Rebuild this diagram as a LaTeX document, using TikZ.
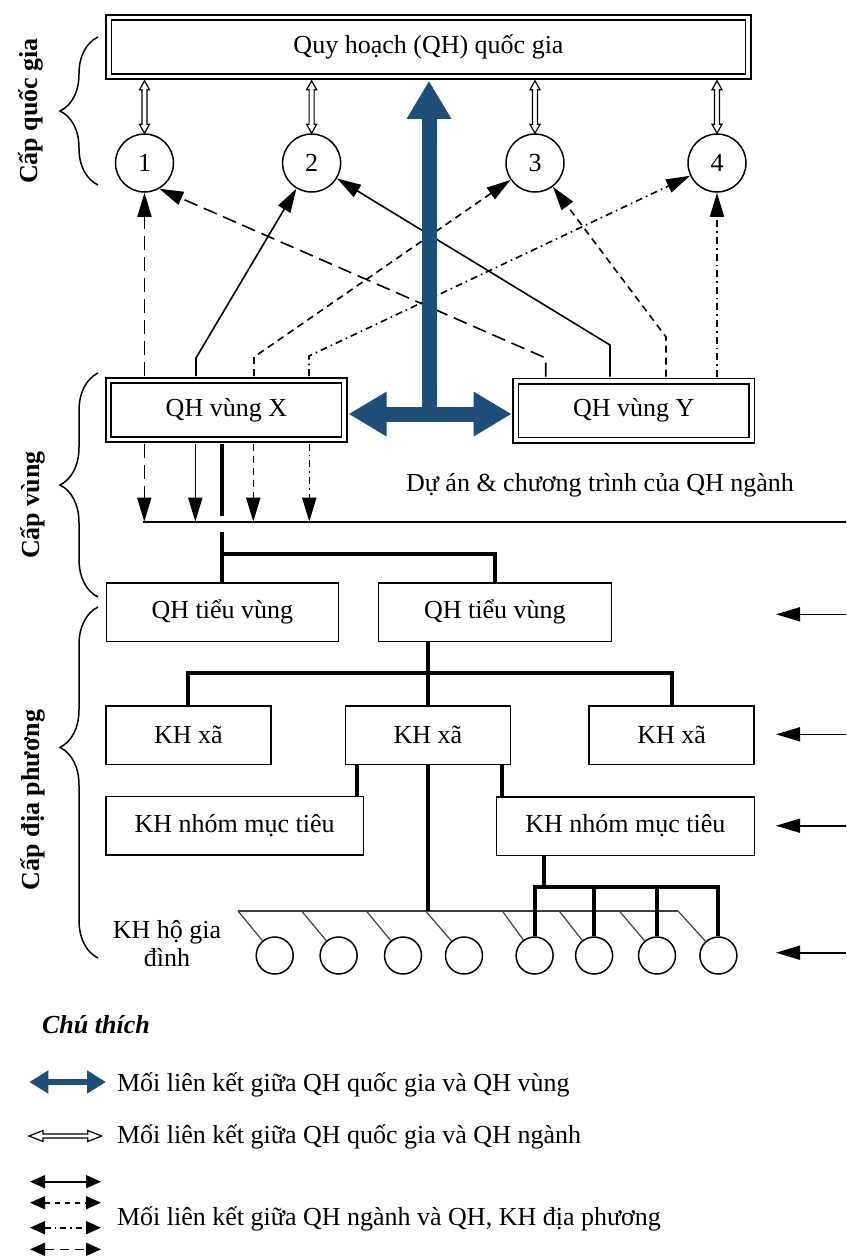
\documentclass[tikz,border=0pt]{standalone}
\usepackage{fontspec}
\setmainfont{Liberation Serif}
\usetikzlibrary{arrows.meta,calc,decorations.pathreplacing}
\definecolor{linkblue}{RGB}{31,78,121}

% hollow double-headed vertical link between two points
\newcommand\openlink[2]{%
  \draw[line width=0.6pt, fill=white] let \p1=#1, \p2=#2 in
    (\x1,\y1) -- (\x1+2.5pt,\y1-4.5pt) -- (\x1+1.25pt,\y1-4.5pt)
    -- (\x1+1.25pt,\y2+4.5pt) -- (\x1+2.5pt,\y2+4.5pt) -- (\x1,\y2)
    -- (\x1-2.5pt,\y2+4.5pt) -- (\x1-1.25pt,\y2+4.5pt)
    -- (\x1-1.25pt,\y1-4.5pt) -- (\x1-2.5pt,\y1-4.5pt) -- cycle;}

\tikzset{
  arr/.tip={Triangle[length=12pt,width=7pt]},
  smallarr/.tip={Triangle[length=7.5pt,width=6.5pt]},
  bluetip/.tip={Triangle[length=19pt,width=21pt]},
}

\begin{document}
\begin{tikzpicture}[x=0.5pt,y=-0.5pt,
  every node/.style={font=\fontsize{13pt}{15pt}\selectfont, inner sep=0pt},
  dblbox/.style={draw, line width=0.8pt, double=white, double distance=1.9pt,
                 minimum width=117.85pt, minimum height=29.5pt},
  plainbox/.style={draw, line width=0.75pt, minimum height=29.25pt},
  ring/.style={draw, circle, line width=0.75pt, minimum size=29pt},
  house/.style={draw, circle, line width=0.75pt, minimum size=18.5pt},
  lnk/.style={line width=0.8pt},
  dashL/.style={dash pattern=on 7pt off 3.5pt},
  dashS/.style={dash pattern=on 3.5pt off 2.5pt},
  dashD/.style={dash pattern=on 3.5pt off 2pt on 0.8pt off 2pt},
  tree/.style={line width=2pt},
  hhline/.style={line width=0.6pt, black!75},
  brc/.style={decorate, line width=0.75pt, decoration={brace, amplitude=19pt}},
  lvl/.style={rotate=90, font=\fontsize{13pt}{15pt}\selectfont\bfseries},
  bluearrow/.style={draw=linkblue, line width=7.5pt},
]
\fill[white] (0,0) rectangle (846,1258);
\useasboundingbox (0,0) rectangle (846,1258);

% ---------- national level ----------
\node[dblbox, minimum width=319.75pt] (top) at (428.5,47) {Quy hoạch (QH) quốc gia};
\node[ring] (c1) at (144.5,163) {1};
\node[ring] (c2) at (311.6,163) {2};
\node[ring] (c3) at (535,163) {3};
\node[ring] (c4) at (717,163) {4};

% ---------- regional level ----------
\node[dblbox] (X) at (226.4,410) {QH vùng X};
\node[dblbox] (Y) at (633.8,410.5) {QH vùng Y};
\node (proj) at (600,485) {Dự án \& chương trình của QH ngành};
\node[plainbox, minimum width=115.9pt] (tv1) at (222.4,612.3) {QH tiểu vùng};
\node[plainbox, minimum width=116.4pt] (tv2) at (494.9,612.3) {QH tiểu vùng};

% ---------- local level ----------
\node[plainbox, minimum width=82.5pt] (xa1) at (188.3,735) {KH xã};
\node[plainbox, minimum width=82.5pt] (xa2) at (427.8,735) {KH xã};
\node[plainbox, minimum width=82.5pt] (xa3) at (671.7,735) {KH xã};
\node[plainbox, minimum width=128.9pt] (nh1) at (234.7,825.5) {KH nhóm mục tiêu};
\node[plainbox, minimum width=128.9pt] (nh2) at (625.4,826) {KH nhóm mục tiêu};
\foreach \i/\x in {1/274.7,2/338.6,3/403,4/464,5/534.6,6/594.1,7/657,8/718.4}
  \node[house] (h\i) at (\x,955.5) {};
\node[align=center, font=\fontsize{13pt}{14pt}\selectfont] (hhlabel) at (167,944) {KH hộ gia\\đình};

% ---------- level braces ----------
\draw[brc, decoration={aspect=0.5}] (98,185) -- (98,37);
\draw[brc, decoration={aspect=0.5}] (98,597) -- (98,373);
\draw[brc, decoration={aspect=0.6}] (98,958) -- (98,607);
\node[lvl] (lq) at (31,111) {Cấp quốc gia};
\node[lvl] (lv) at (33,505) {Cấp vùng};
\node[lvl] (ld) at (33,800) {Cấp địa phương};

% outer edges of the double-framed boxes
\coordinate (topB) at ([yshift=-1.75pt]top.south);
\coordinate (XT) at ([yshift=1.75pt]X.north);
\coordinate (XB) at ([yshift=-1.75pt]X.south);
\coordinate (YT) at ([yshift=1.75pt]Y.north);
\coordinate (XE) at ([xshift=1.75pt]X.east);
\coordinate (YW) at ([xshift=-1.75pt]Y.west);

% national plan <-> sector plans
\foreach \c in {c1,c2,c3,c4}
  \openlink{(topB -| \c.north)}{(\c.north)};

% regional plans -> sector plans
\draw[lnk, dashL, -arr] (XT -| c1.south) -- (c1.south);
\draw[lnk, -arr] (196,0 |- XT) -- (196,358) -- (c2);
\draw[lnk, dashS, -arr] (254,0 |- XT) -- (254,357) -- (c3);
\draw[lnk, dashD, -arr] (309,0 |- XT) -- (309,356) -- (c4);
\draw[lnk, dashL, -arr] (545.7,0 |- YT) -- (545.7,358) -- (c1.-60);
\draw[lnk, -arr] (610,0 |- YT) -- (610,345) -- (c2);
\draw[lnk, dashS, -arr] (666,0 |- YT) -- (666,337) -- (c3);
\draw[lnk, dashD, -arr] (YT -| c4.south) -- (c4.south);

% national plan <-> regional plans
\coordinate (bluejoin) at (429,414);
\draw[bluearrow, {bluetip}-{bluetip}] (XE |- bluejoin) -- (YW |- bluejoin);
\draw[bluearrow, -{bluetip}] (bluejoin) -- (bluejoin |- topB);

% sector programmes line
\coordinate (hlL) at (142.7,521.7);
\coordinate (hlR) at (846,521.7);
\draw[lnk] (hlL) -- (hlR);
\draw[lnk, dashL, -arr] (144.3,0 |- XB) -- (144.3,0 |- hlL);
\draw[lnk, -arr] (195.3,0 |- XB) -- (195.3,0 |- hlL);
\draw[lnk, dashS, -arr] (253.3,0 |- XB) -- (253.3,0 |- hlL);
\draw[lnk, dashD, -arr] (309.3,0 |- XB) -- (309.3,0 |- hlL);

% hierarchy
\draw[tree] (XB -| tv1.north) -- (tv1.north |- 0,515.7);
\draw[tree] (tv1.north |- 0,531.7) -- (tv1.north);
\draw[tree] (tv1.north |- 0,554.3) -| (tv2.north);
\draw[tree] (xa2.north |- tv2.south) -- (xa2.north);
\draw[tree] (xa1.north) |- (xa3.north |- 0,672.7) -- (xa3.north);
\draw[tree] (357.3,0 |- xa2.south) -- (357.3,0 |- nh1.north);
\draw[tree] (502.3,0 |- xa2.south) -- (502.3,0 |- nh2.north);

% households
\coordinate (hhL) at (238,911);
\coordinate (hhR) at (678,911);
\draw[hhline] (hhL) -- (hhR);
\foreach \i/\s in {1/238,2/301.6,3/366.4,4/425.6,5/502.4,6/559.2,7/619.4,8/678}
  \draw[hhline] (\s,911) -- (h\i);
\draw[tree] (xa2.south) -- (xa2.south |- hhL);
\draw[tree] (544.4,0 |- nh2.south) -- (544.4,886.7);
\draw[tree] (h5.north) |- (h8.north |- 0,886.7) -- (h8.north);
\draw[tree] (h6.north |- 0,886.7) -- (h6.north);
\draw[tree] (h7.north |- 0,886.7) -- (h7.north);

% inputs from sector plans
\foreach \i/\y in {1/614.3,2/734.3,3/825.7,4/952.7}{
  \coordinate (rs\i) at (846,\y);
  \coordinate (re\i) at (776,\y);
  \draw[lnk, -arr] (rs\i) -- (re\i);
}

% ---------- legend ----------
\node[anchor=west, font=\fontsize{13pt}{15pt}\selectfont\bfseries\itshape] (legtitle) at (41.7,1025) {Chú thích};

\coordinate (lb1) at (29.3,1082);
\coordinate (lb2) at (106,1082);
\draw[draw=linkblue, line width=3.35pt, {Triangle[length=9.5pt,width=11pt]}-{Triangle[length=9.5pt,width=11pt]}] (lb1) -- (lb2);
\node[anchor=west] (leg1) at (116.7,1085) {Mối liên kết giữa QH quốc gia và QH vùng};

\draw[line width=0.6pt, fill=white] (29,1136) -- (43,1130.5) -- (43,1134) -- (87.7,1134)
  -- (87.7,1130.5) -- (101.7,1136) -- (87.7,1141.5) -- (87.7,1138) -- (43,1138)
  -- (43,1141.5) -- cycle;
\node[anchor=west] (leg2) at (116.7,1137) {Mối liên kết giữa QH quốc gia và QH ngành};

\coordinate (la1) at (30,1181.7);  \coordinate (lz1) at (101,1181.7);
\coordinate (la2) at (30,1202.7);  \coordinate (lz2) at (101,1202.7);
\coordinate (la3) at (30,1227.7);  \coordinate (lz3) at (101,1227.7);
\coordinate (la4) at (30,1249.3);  \coordinate (lz4) at (101,1249.3);
\draw[lnk, {smallarr}-{smallarr}] (la1) -- (lz1);
\draw[lnk, dash pattern=on 2.5pt off 2.5pt, {smallarr}-{smallarr}] (la2) -- (lz2);
\draw[lnk, dash pattern=on 3pt off 2pt on 0.8pt off 2pt, {smallarr}-{smallarr}] (la3) -- (lz3);
\draw[lnk, dash pattern=on 4.5pt off 3pt, {smallarr}-{smallarr}] (la4) -- (lz4);
\node[anchor=west] (leg3) at (116.7,1219) {Mối liên kết giữa QH ngành và QH, KH địa phương};
\end{tikzpicture}
\end{document}
